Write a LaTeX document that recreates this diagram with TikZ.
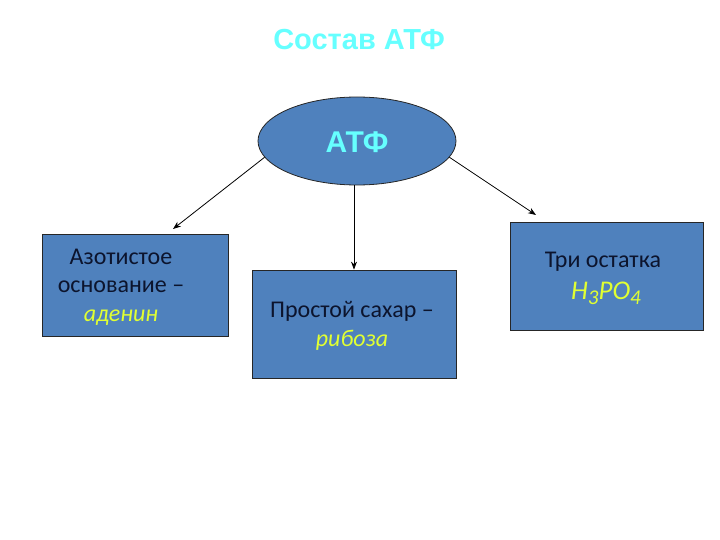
\documentclass[tikz,border=0pt]{standalone}
\usepackage{fontspec}
\setmainfont{Carlito}
\newfontfamily\arialf{Liberation Sans}
\usetikzlibrary{shapes.geometric,arrows.meta}
\definecolor{boxblue}{RGB}{79,129,189}
\definecolor{titlecyan}{RGB}{102,255,255}
\definecolor{darktext}{RGB}{12,20,45}
\definecolor{ylw}{RGB}{225,255,50}
\begin{document}
\begin{tikzpicture}[x=1pt,y=-1pt,
  blk/.style={draw=black!85,line width=0.8pt,fill=boxblue,inner sep=0pt},
  conn/.style={draw=black,line width=0.8pt,-{Stealth[length=8pt,width=6pt]}},
  body/.style={font=\fontsize{24}{28.5}\selectfont,text=darktext,align=center}]
\useasboundingbox (0,0) rectangle (720,540);
\node[font=\arialf\bfseries\fontsize{29}{32}\selectfont,text=titlecyan] (title) at (359,40) {Состав АТФ};
\node[blk,ellipse,minimum width=198,minimum height=88] (atf) at (357,141) {};
\node[font=\arialf\bfseries\fontsize{30}{32}\selectfont,text=titlecyan] at (357,142) {АТФ};
\node[blk,minimum width=186,minimum height=102] (left) at (135,285) {};
\node[body] at (121,287) {Азотистое\\основание –\\\textcolor{ylw}{\itshape аденин}};
\node[blk,minimum width=204,minimum height=108] (mid) at (354,324) {};
\node[body] at (352,326) {Простой сахар –\\\textcolor{ylw}{\itshape рибоза}};
\node[blk,minimum width=193,minimum height=108] (right) at (606.5,276) {};
\node[body,anchor=center] at (603,262) {Три остатка};
\node[font=\fontsize{27}{28}\selectfont\itshape,text=ylw] at (606,293) {H\raisebox{-5pt}{\fontsize{21}{22}\selectfont 3}PO\raisebox{-5pt}{\fontsize{21}{22}\selectfont 4}};
\coordinate (lt) at (173,229);
\coordinate (rt) at (536,215);
\draw[conn] (atf.190) -- (lt);
\draw[conn] (atf.south -| mid.north) -- (mid.north);
\draw[conn] (atf.-10) -- (rt);
\end{tikzpicture}
\end{document}
